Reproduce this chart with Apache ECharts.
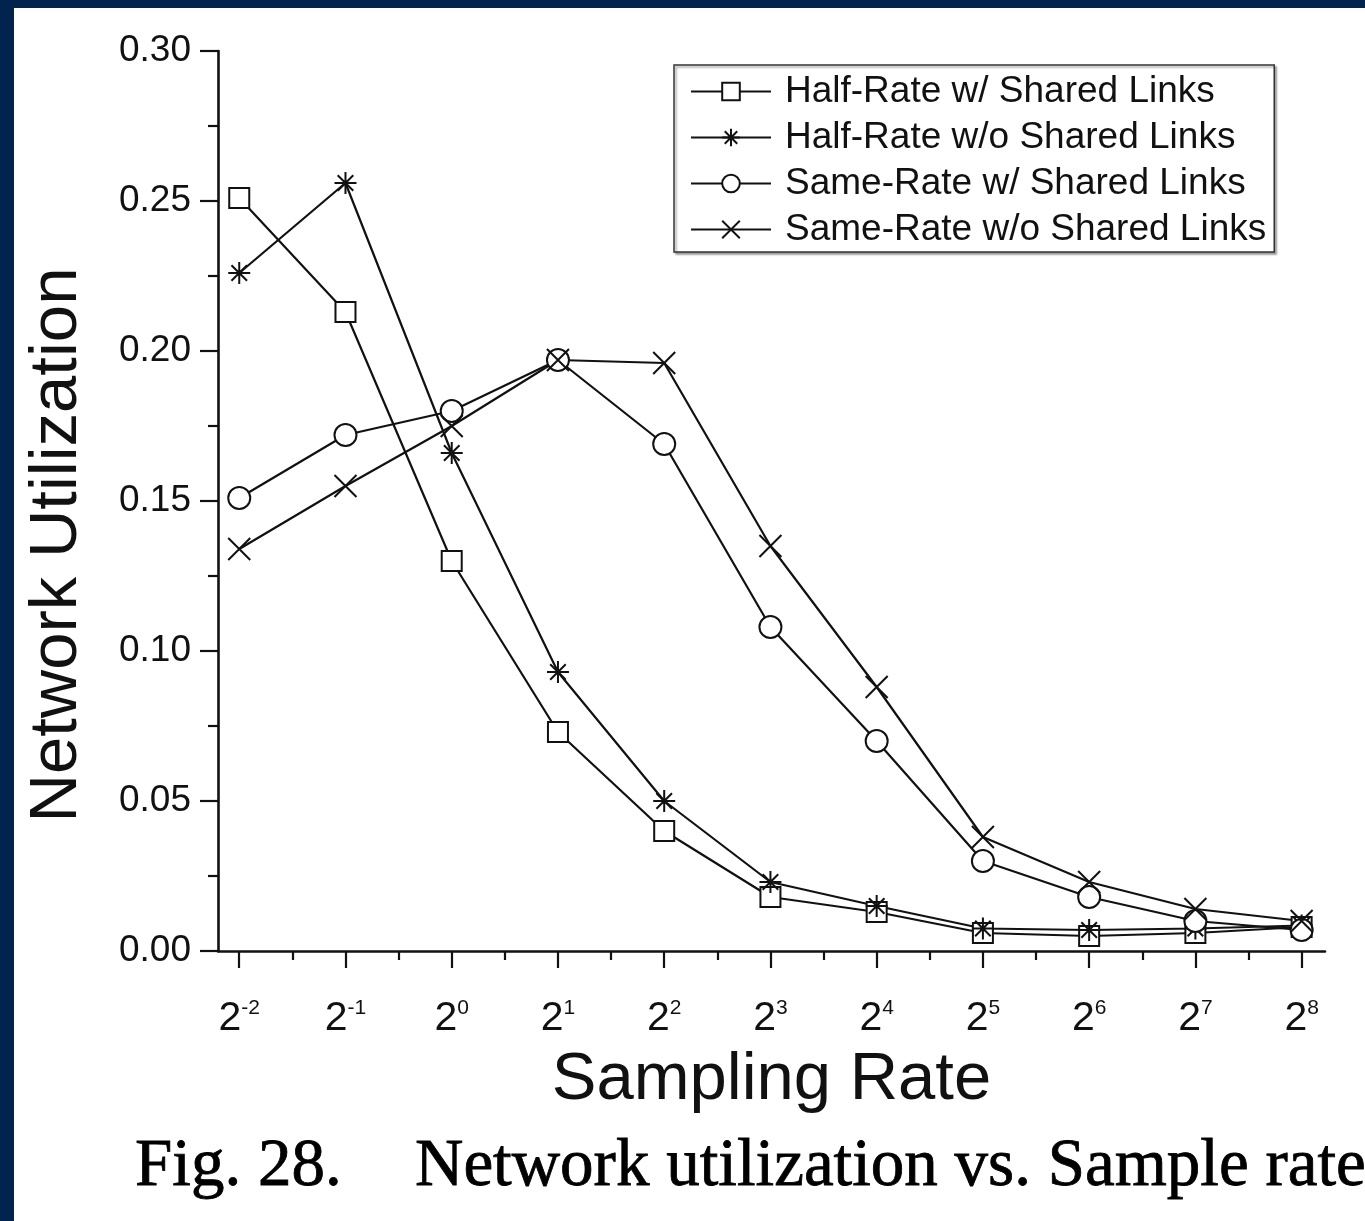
<!DOCTYPE html>
<html>
<head>
<meta charset="utf-8">
<script src="https://cdn.jsdelivr.net/npm/echarts@6/dist/echarts.min.js"></script>
<style>
  html, body { margin: 0; padding: 0; background: #fff; }
  #main { width: 1365px; height: 1221px; }
</style>
</head>
<body>
<div id="main"></div>
<script>
// exponents of the sampling rate (2^n)
const rateExp = [-2, -1, 0, 1, 2, 3, 4, 5, 6, 7, 8]
const minorExp = [-1.5, -0.5, 0.5, 1.5, 2.5, 3.5, 4.5, 5.5, 6.5, 7.5]

const halfShared = [0.251, 0.213, 0.130, 0.073, 0.040, 0.018, 0.013, 0.006, 0.005, 0.006, 0.008]
const halfNoShared = [0.226, 0.256, 0.166, 0.093, 0.050, 0.023, 0.015, 0.0075, 0.007, 0.0075, 0.0085]
const sameShared = [0.151, 0.172, 0.180, 0.197, 0.169, 0.108, 0.070, 0.030, 0.018, 0.010, 0.007]
const sameNoShared = [0.134, 0.155, 0.175, 0.197, 0.196, 0.135, 0.088, 0.038, 0.023, 0.014, 0.010]

const seriesNames = [
  'Half-Rate w/ Shared Links',
  'Half-Rate w/o Shared Links',
  'Same-Rate w/ Shared Links',
  'Same-Rate w/o Shared Links'
]

const FONT = 'Liberation Sans, Arial, sans-serif'
const SERIF = 'Liberation Serif, Times New Roman, serif'
const INK = '#111'

const asterisk = 'path://M12 0L12 24M0 12L24 12M3.5 3.5L20.5 20.5M20.5 3.5L3.5 20.5'
const cross = 'path://M0 0L24 24M24 0L0 24'

function pairs (vals) {
  return vals.map((v, i) => [rateExp[i], v])
}

function makeSeries (name, vals, symbol, size) {
  return {
    name: name,
    type: 'line',
    data: pairs(vals),
    symbol: symbol,
    symbolSize: size,
    showAllSymbol: true,
    lineStyle: { color: INK, width: 2.2 },
    itemStyle: { color: '#fff', borderColor: INK, borderWidth: 2 },
    emphasis: { disabled: true }
  }
}

const chart = echarts.init(document.getElementById('main'))

const option = {
  animation: false,
  backgroundColor: '#fff',
  grid: { left: 218, top: 51, right: 40, bottom: 270 },
  legend: {
    orient: 'vertical',
    left: 674,
    top: 65,
    padding: [8, 8, 4, 16],
    itemWidth: 80,
    itemHeight: 22,
    itemGap: 9,
    borderColor: '#333',
    borderWidth: 1.5,
    shadowColor: 'rgba(0,0,0,0.35)',
    shadowOffsetX: 2,
    shadowOffsetY: 2,
    shadowBlur: 2,
    backgroundColor: '#fff',
    itemStyle: { borderWidth: 2 },
    textStyle: { fontFamily: FONT, fontSize: 37, color: INK, lineHeight: 36, padding: [0, 0, 0, 9] },
    data: seriesNames
  },
  xAxis: [
    {
      type: 'value',
      position: 'bottom',
      min: -2.2,
      max: 8.22,
      splitLine: { show: false },
      axisLine: { show: true, onZero: false, lineStyle: { color: INK, width: 2.6 } },
      axisTick: { show: true, length: 17, customValues: rateExp, lineStyle: { color: INK, width: 2.2 } },
      axisLabel: {
        customValues: rateExp,
        margin: 47,
        formatter: (v) => '{b|2}{s|' + v + '}',
        rich: {
          b: { fontFamily: FONT, fontSize: 41, color: INK, lineHeight: 42 },
          s: { fontFamily: FONT, fontSize: 21, color: INK, verticalAlign: 'top', lineHeight: 20 }
        }
      },
      name: 'Sampling Rate',
      nameLocation: 'middle',
      nameGap: 96,
      nameTextStyle: { fontFamily: FONT, fontSize: 67, color: INK }
    },
    {
      type: 'value',
      position: 'bottom',
      min: -2.2,
      max: 8.22,
      splitLine: { show: false },
      axisLine: { show: false, onZero: false },
      axisTick: { show: true, length: 9, customValues: minorExp, lineStyle: { color: INK, width: 2.2 } },
      axisLabel: { show: false }
    }
  ],
  yAxis: {
    type: 'value',
    min: 0,
    max: 0.30,
    interval: 0.05,
    splitLine: { show: false },
    axisLine: { show: true, onZero: false, lineStyle: { color: INK, width: 2.6 } },
    axisTick: { show: true, length: 18, lineStyle: { color: INK, width: 2.2 } },
    minorTick: { show: true, splitNumber: 2, length: 10, lineStyle: { color: INK, width: 2.2 } },
    axisLabel: {
      margin: 27,
      formatter: (v) => v.toFixed(2),
      fontFamily: FONT,
      fontSize: 37,
      color: INK
    }
  },
  graphic: [
    { type: 'rect', left: 0, top: 0, shape: { width: 1365, height: 8 }, style: { fill: '#03234f' }, z: 100 },
    { type: 'rect', left: 0, top: 0, shape: { width: 14, height: 1221 }, style: { fill: '#03234f' }, z: 100 },
    {
      type: 'text',
      x: 58,
      y: 545,
      rotation: Math.PI / 2,
      style: {
        text: 'Network Utilization',
        font: '67px ' + FONT,
        fill: INK,
        align: 'center',
        verticalAlign: 'middle'
      }
    },
    {
      type: 'text',
      x: 135,
      y: 1134,
      style: { text: 'Fig. 28.', font: '67px ' + SERIF, fill: '#000', stroke: '#000', lineWidth: 0.8, verticalAlign: 'top' }
    },
    {
      type: 'text',
      x: 415,
      y: 1134,
      style: { text: 'Network utilization vs. Sample rate', font: '67px ' + SERIF, fill: '#000', stroke: '#000', lineWidth: 0.8, verticalAlign: 'top' }
    }
  ],
  series: [
    makeSeries(seriesNames[0], halfShared, 'rect', 20),
    makeSeries(seriesNames[1], halfNoShared, asterisk, 22),
    makeSeries(seriesNames[2], sameShared, 'circle', 22),
    makeSeries(seriesNames[3], sameNoShared, cross, 22)
  ]
}

chart.setOption(option)
</script>
</body>
</html>
